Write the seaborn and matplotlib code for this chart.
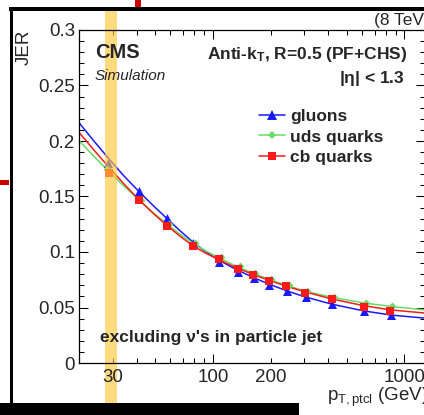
import numpy as np
import pandas as pd
import matplotlib
matplotlib.use("Agg")
import matplotlib.pyplot as plt
import seaborn as sns
from matplotlib.patches import Rectangle
from matplotlib.lines import Line2D
from matplotlib.ticker import FixedLocator, FixedFormatter, NullFormatter

# ---------------- data ----------------
# marker points (pT in GeV, JER)
pt_gluons = [28.3, 41.3, 57.8, 79.0, 108, 136, 163, 197, 244, 305, 421, 617, 852]
jer_gluons = [0.180, 0.1552, 0.1303, 0.1078, 0.091, 0.0822, 0.0766, 0.0707, 0.0646, 0.0592, 0.0529, 0.0468, 0.0436]

pt_uds = [28.0, 42.0, 59.0, 80.5, 110, 139, 166, 201, 249, 310, 428, 628, 865]
jer_uds = [0.175, 0.147, 0.125, 0.108, 0.0955, 0.087, 0.081, 0.0755, 0.0703, 0.0648, 0.0598, 0.0543, 0.0514]

pt_cb = [28.6, 41.0, 57.5, 78.6, 107, 135, 162, 196, 242, 302, 417, 612, 845]
jer_cb = [0.171, 0.1468, 0.1237, 0.1057, 0.0940, 0.0847, 0.0797, 0.0737, 0.0691, 0.0635, 0.0575, 0.0507, 0.0472]

# fitted curves
curve_pt = [20, 24, 28.5, 34, 41, 49, 58, 68, 79, 92, 108, 125, 145, 170, 200, 245, 305, 420, 615, 850, 1280]
curve_gluons = [0.2165, 0.1997, 0.1844, 0.1693, 0.1547, 0.1415, 0.1296, 0.1185, 0.1087, 0.1002, 0.0925,
                0.0865, 0.0810, 0.0756, 0.0705, 0.0648, 0.0594, 0.0529, 0.0469, 0.0432, 0.0404]
curve_uds = [0.2003, 0.1860, 0.1729, 0.1600, 0.1470, 0.1352, 0.1247, 0.1155, 0.1077, 0.1009, 0.0946,
             0.0893, 0.0843, 0.0794, 0.0748, 0.0696, 0.0647, 0.0591, 0.0541, 0.0510, 0.0478]
curve_cb = [0.2078, 0.1916, 0.1768, 0.1621, 0.1473, 0.1345, 0.1234, 0.1137, 0.1054, 0.0988, 0.0929,
            0.0878, 0.0831, 0.0784, 0.0740, 0.0689, 0.0639, 0.0576, 0.0516, 0.0478, 0.0450]

series_names = ["gluons", "uds quarks", "cb quarks"]

xtick_major = [100, 1000]
xtick_minor = [20, 30, 40, 50, 60, 70, 80, 90, 200, 300, 400, 500, 600, 700, 800, 900]
xtick_label_vals = [30, 100, 200, 1000]
xtick_labels = ["30", "100", "200", "1000"]
ytick_vals = [0, 0.05, 0.1, 0.15, 0.2, 0.25, 0.3]
ytick_labels = ["0", "0.05", "0.1", "0.15", "0.2", "0.25", "0.3"]
band_range = [27.5, 31.7]

# ---------------- style ----------------
sns.set_style("ticks")
plt.rcParams["font.family"] = ["Liberation Sans", "DejaVu Sans"]
plt.rcParams["mathtext.fontset"] = "custom"
plt.rcParams["mathtext.rm"] = "Liberation Sans"
plt.rcParams["mathtext.it"] = "Liberation Sans:italic"
plt.rcParams["mathtext.bf"] = "Liberation Sans:bold"

W, H = 424, 415
def fx(x):
    return x / W
def fy(y):
    return 1 - y / H

fig = plt.figure(figsize=(W / 100, H / 100), dpi=100)
fig.patch.set_facecolor("white")
ax = fig.add_axes([fx(79), fy(363), (425 - 79) / W, (363 - 30) / H])
ax.set_facecolor("white")

col_g = "#1a1aff"
col_u = "#66dd66"
col_c = "#ff1a1a"

n = len(curve_pt)
curves = pd.DataFrame({
    "pt": curve_pt * 3,
    "jer": curve_gluons + curve_uds + curve_cb,
    "flav": [series_names[0]] * n + [series_names[1]] * n + [series_names[2]] * n,
})
for name, col in zip(series_names, [col_g, col_u, col_c]):
    sub = curves[curves["flav"] == name]
    sns.lineplot(data=sub, x="pt", y="jer", color=col, lw=1.1, ax=ax,
                 estimator=None, sort=False, legend=False, zorder=2)

sns.scatterplot(x=pt_gluons, y=jer_gluons, marker="^", s=42, color=col_g, linewidth=0, ax=ax, zorder=2.05)
sns.scatterplot(x=pt_uds, y=jer_uds, marker="D", s=16, color=col_u, linewidth=0, ax=ax, zorder=2.06)
sns.scatterplot(x=pt_cb, y=jer_cb, marker="s", s=34, color=col_c, linewidth=0, ax=ax, zorder=2.07)

# highlighted band
ax.axvspan(band_range[0], band_range[1], ymin=(363 - 403) / 333, ymax=(363 - 11) / 333,
           color="#ffc83c", alpha=0.65, lw=0, zorder=2.2, clip_on=False)

ax.set_xscale("log")
ax.set_xlim(20, 1280)
ax.set_ylim(0, 0.3)
ax.xaxis.set_major_locator(FixedLocator(xtick_major))
ax.xaxis.set_minor_locator(FixedLocator(xtick_minor))
ax.xaxis.set_major_formatter(NullFormatter())
ax.xaxis.set_minor_formatter(NullFormatter())
ax.yaxis.set_major_locator(FixedLocator(ytick_vals))
ax.yaxis.set_major_formatter(FixedFormatter(ytick_labels))
ax.yaxis.set_minor_locator(FixedLocator(np.arange(0, 0.301, 0.01)))
ax.set_xlabel("")
ax.set_ylabel("")
for sp in ax.spines.values():
    sp.set_visible(True)
    sp.set_linewidth(0.9)
    sp.set_color("black")
ax.tick_params(which="both", direction="in", top=True, right=True, width=0.75, color="black")
ax.tick_params(which="major", length=6.5)
ax.tick_params(which="minor", length=3.6)
ax.tick_params(axis="y", labelsize=13.5, pad=2.9)

# x tick labels (ROOT style: some on minor ticks)
for v, lab in zip(xtick_label_vals, xtick_labels):
    ax.text(v, -5.5 / 333, lab, transform=ax.get_xaxis_transform(), ha="center", va="top",
            fontsize=13.5, zorder=3)

# texts
fig.text(fx(24), fy(30), "JER", rotation=90, ha="center", va="top", fontsize=13.5)
fig.text(fx(95), fy(58), "CMS", fontsize=14.5, weight="bold", va="baseline")
fig.text(fx(95), fy(80), "Simulation", fontsize=11, style="italic", va="baseline")
fig.text(fx(407), fy(59), r"Anti-k$_\mathbf{T}$, R=0.5 (PF+CHS)", fontsize=12.5, weight="bold",
         ha="right", va="baseline")
fig.text(fx(405), fy(83), r"|$\mathbf{\eta}$| < 1.3", fontsize=12.5, weight="bold", ha="right", va="baseline")
fig.text(fx(100), fy(342), "excluding \u03bd's in particle jet", fontsize=12.5, weight="bold", va="baseline")
fig.text(fx(374), fy(25), "(8 TeV)", fontsize=12.5, va="baseline")
fig.text(fx(327), fy(401), r"p$_{\mathrm{T,ptcl}}$ (GeV)", fontsize=13.5, va="baseline")

handles = [
    Line2D([0], [0], color=col_g, lw=1.1, marker="^", markersize=6.5, markeredgewidth=0),
    Line2D([0], [0], color=col_u, lw=1.1, marker="D", markersize=4, markeredgewidth=0),
    Line2D([0], [0], color=col_c, lw=1.1, marker="s", markersize=5.8, markeredgewidth=0),
]
ax.legend(handles, series_names, loc="upper left", bbox_to_anchor=(fx(259), fy(109)),
          bbox_transform=fig.transFigure, frameon=False, borderpad=0, borderaxespad=0,
          handlelength=1.5, handletextpad=0.3, labelspacing=0.3,
          prop={"weight": "bold", "size": 12.5})

# outer frame decorations
def rect(x0, y0, x1, y1, color):
    fig.add_artist(Rectangle((fx(x0), fy(y1)), (x1 - x0) / W, (y1 - y0) / H,
                             transform=fig.transFigure, color=color, lw=0, zorder=10))

rect(9, 7, 430, 11, "black")
rect(9.5, 7, 13, 403, "black")
rect(-2, 403, 299, 420, "black")
rect(135, -2, 141, 7, "#cc0000")
rect(-2, 180, 9, 185, "#cc0000")

fig.savefig("out.png", dpi=100)
